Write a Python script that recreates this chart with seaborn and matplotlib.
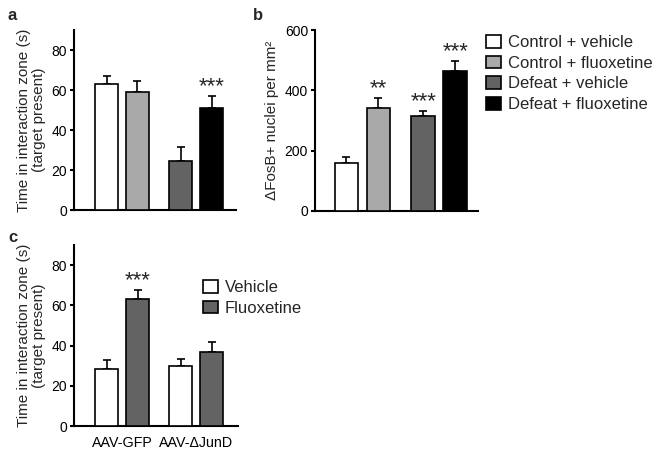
import numpy as np
import pandas as pd
import matplotlib
matplotlib.use("Agg")
import matplotlib.pyplot as plt
import seaborn as sns
from matplotlib.patches import Patch

sns.set_style("ticks")
plt.rcParams['font.family'] = ['Liberation Sans', 'DejaVu Sans']

# ---------------- data ----------------
groups_ab = ["Control + vehicle", "Control + fluoxetine", "Defeat + vehicle", "Defeat + fluoxetine"]
a_means = [63, 59, 24.5, 51]
a_err = [4, 5.5, 7, 6]
a_stars = ["", "", "", "***"]

b_means = [159, 340, 314, 463]
b_err = [19, 33, 16, 33]
b_stars = ["", "**", "***", "***"]

c_viruses = ["AAV-GFP", "AAV-\u0394JunD"]
c_treat = ["Vehicle", "Fluoxetine"]
c_means = [28.5, 63, 30, 37]
c_err = [4.5, 4.5, 3.5, 5]
c_stars = ["", "***", "", ""]

pal_ab = ["#ffffff", "#a9a9a9", "#636363", "#000000"]
pal_c = ["#ffffff", "#636363"]

GAP = 0.4
positions = [i + GAP * (i // 2) for i in range(4)]

W, H = 657, 455
fig = plt.figure(figsize=(W / 100, H / 100), dpi=100)


def axes_px(l, r, t, b):
    return fig.add_axes([l / W, 1 - b / H, (r - l) / W, (b - t) / H])


ax_a = axes_px(74, 236, 30, 210)
ax_b = axes_px(315, 478, 30, 211)
ax_c = axes_px(74, 238, 245, 426)


def draw(ax, labels, order, means, errs, stars, palette, ylim, yticks, xlim):
    df = pd.DataFrame({"pos": positions, "label": labels, "mean": means, "err": errs})
    sns.barplot(data=df, x="pos", y="mean", hue="label", hue_order=order,
                palette=palette, native_scale=True, width=0.74,
                edgecolor="black", linewidth=1.2, errorbar=None,
                legend=False, ax=ax, zorder=3)
    ax.errorbar(df["pos"], df["mean"], yerr=[np.zeros(len(df)), df["err"]],
                fmt="none", ecolor="black", elinewidth=1.2, capsize=2.8,
                capthick=1.2, zorder=2)
    for p, m, e, s in zip(df["pos"], df["mean"], df["err"], stars):
        if s:
            ax.annotate(s, (p, m + e), xytext=(0, 3), textcoords="offset points",
                        ha="center", va="baseline", fontsize=16)
    ax.set_ylim(*ylim)
    ax.set_yticks(yticks)
    ax.set_xlim(*xlim)
    ax.set_xlabel("")
    for sp in ["top", "right"]:
        ax.spines[sp].set_visible(False)
    for sp in ["left", "bottom"]:
        ax.spines[sp].set_linewidth(1.5)
        ax.spines[sp].set_color("black")
    ax.tick_params(axis="y", length=3, width=1.5, labelsize=10, pad=2, colors="black")
    ax.tick_params(axis="x", length=0, labelsize=10, colors="black")
    ax.set_facecolor("white")


draw(ax_a, groups_ab, groups_ab, a_means, a_err, a_stars, pal_ab,
     (0, 90), [0, 20, 40, 60, 80], (-1.05, 4.18))
ax_a.set_xticks([])
ax_a.set_ylabel("Time in interaction zone (s)\n(target present)", fontsize=11,
                linespacing=1.1, labelpad=4)

draw(ax_b, groups_ab, groups_ab, b_means, b_err, b_stars, pal_ab,
     (0, 600), [0, 200, 400, 600], (-0.98, 4.11))
ax_b.set_xticks([])
ax_b.set_ylabel("\u0394FosB+ nuclei per mm\u00b2", fontsize=11, labelpad=4)

c_labels = [c_treat[i % 2] for i in range(4)]
draw(ax_c, c_labels, c_treat, c_means, c_err, c_stars, pal_c,
     (0, 90), [0, 20, 40, 60, 80], (-1.05, 4.24))
ax_c.set_xticks([(positions[0] + positions[1]) / 2, (positions[2] + positions[3]) / 2])
ax_c.set_xticklabels(c_viruses, fontsize=10.3)
ax_c.tick_params(axis="x", pad=7)
ax_c.set_ylabel("Time in interaction zone (s)\n(target present)", fontsize=11,
                linespacing=1.1, labelpad=4)

# legends
h_ab = [Patch(facecolor=c, edgecolor="black", linewidth=1.2) for c in pal_ab]
fig.legend(h_ab, groups_ab, loc="upper left", bbox_to_anchor=(486 / W, 1 - 35 / H),
           frameon=False, fontsize=12, handlelength=0.9, handleheight=0.8,
           handletextpad=0.4, labelspacing=0.33, borderpad=0, borderaxespad=0)

h_c = [Patch(facecolor=c, edgecolor="black", linewidth=1.2) for c in pal_c]
fig.legend(h_c, c_treat, loc="upper left", bbox_to_anchor=(203 / W, 1 - 280 / H),
           frameon=False, fontsize=12, handlelength=0.9, handleheight=0.8,
           handletextpad=0.4, labelspacing=0.33, borderpad=0, borderaxespad=0)

for x, y, t in [(8, 15, "a"), (253, 15, "b"), (8, 238, "c")]:
    fig.text(x / W, 1 - y / H, t, fontsize=12, fontweight="bold", va="center", ha="left")

fig.savefig("out.png", dpi=100, facecolor="white")
